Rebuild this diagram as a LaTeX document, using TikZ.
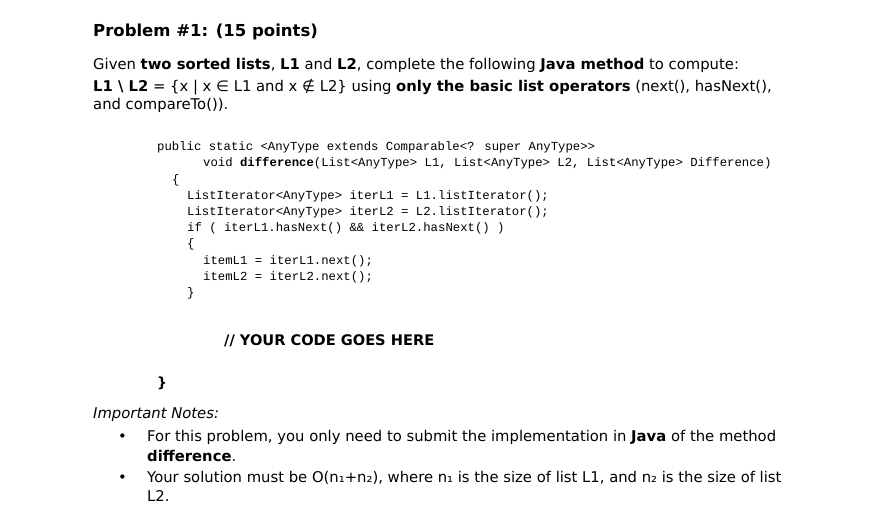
\documentclass[tikz,border=0pt]{standalone}
\usepackage{fontspec}
\setmainfont{DejaVu Sans}
\newfontfamily\codef{Liberation Mono}
\begin{document}
\begin{tikzpicture}[x=1pt,y=-1pt,
  t/.style={anchor=base west,inner sep=0pt,font=\fontsize{14.8}{17}\selectfont},
  c/.style={anchor=base west,inner sep=0pt,font=\codef\fontsize{12.3}{14}\selectfont}]
\useasboundingbox (0,0) rectangle (886,526);
\node[t,font=\bfseries\fontsize{16.5}{19}\selectfont] (title) at (93,37) {Problem \#1: (15 points)};
\node[t] (l1) at (93,70) {Given \textbf{two sorted lists}, \textbf{L1} and \textbf{L2}, complete the following \textbf{Java method} to compute:};
\node[t] (l2) at (93,92) {\textbf{L1 \textbackslash\ L2} = \{x | x ∈ L1 and x ∉ L2\} using \textbf{only the basic list operators} (next(), hasNext(),};
\node[t] (l3) at (93,110) {and compareTo()).};
\node[c] (c1) at (157,151) {public static <AnyType extends Comparable<? super AnyType>{}>};
\node[c] (c2) at (203,167) {void \textbf{difference}(List<AnyType> L1, List<AnyType> L2, List<AnyType> Difference)};
\node[c] (c3) at (172,184) {\{};
\node[c] (c4) at (187,200) {ListIterator<AnyType> iterL1 = L1.listIterator();};
\node[c] (c5) at (187,216) {ListIterator<AnyType> iterL2 = L2.listIterator();};
\node[c] (c6) at (187,232) {if ( iterL1.hasNext() \&\& iterL2.hasNext() )};
\node[c] (c7) at (187,248) {\{};
\node[c] (c8) at (203,265) {itemL1 = iterL1.next();};
\node[c] (c9) at (203,281) {itemL2 = iterL2.next();};
\node[c] (c10) at (187,297) {\}};
\node[t,font=\bfseries\fontsize{14.6}{16}\selectfont] (yc) at (224,346) {// YOUR CODE GOES HERE};
\node[t,font=\bfseries\fontsize{14}{16}\selectfont] (cb) at (157,388) {\}};
\node[t,font=\itshape\fontsize{14.8}{17}\selectfont] (imp) at (93,418) {Important Notes:};
\node[t] (b1) at (118,441) {•};
\node[t] (n1) at (147,441) {For this problem, you only need to submit the implementation in \textbf{Java} of the method};
\node[t] (n1b) at (147,461) {\textbf{difference}.};
\node[t] (b2) at (118,482) {•};
\node[t] (n2) at (147,482) {Your solution must be O(n₁+n₂), where n₁ is the size of list L1, and n₂ is the size of list};
\node[t] (n2b) at (147,501) {L2.};
\end{tikzpicture}
\end{document}
